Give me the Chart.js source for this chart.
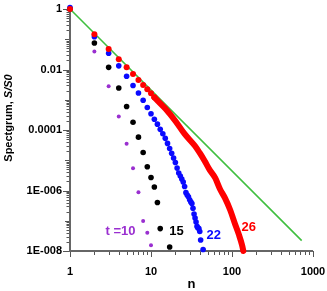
<!DOCTYPE html>
<html>
<head>
<meta charset="utf-8">
<script src="https://cdn.jsdelivr.net/npm/chart.js@4/dist/chart.umd.min.js"></script>
<style>
    html, body { margin: 0; padding: 0; background: #fff; }
    #wrap { width: 327px; height: 291px; }
</style>
</head>
<body>
<div id="wrap"><canvas id="chart"></canvas></div>
<script>
// t = 10
const purpleN = [1, 2, 3, 4, 5, 6, 7, 8, 9, 10];
const purpleS = [1, 0.039, 2.8e-3, 2.8e-4, 3.5e-5, 5.4e-6, 8.7e-7, 9.8e-8, 4.0e-8, 1.55e-8];

// t = 15
const blackN = [1, 2, 3, 4, 5, 6, 7, 8, 9, 10, 11, 12, 13, 17];
const blackS = [1, 0.075, 0.0118, 2.45e-3, 6.0e-4, 1.8e-4, 5.8e-5, 1.8e-5, 6.1e-6, 2.7e-6, 1.3e-6, 4.0e-7, 5.5e-8, 1.35e-8];

// t = 22
const blueN = [1, 2, 3, 4, 5, 6, 7, 8, 9, 10, 11, 12, 13, 14, 15, 16, 17, 18, 19, 20, 21, 22,
    23, 24, 25, 26, 27, 28, 29, 30, 31, 32, 33, 34, 35, 36, 37, 38, 39, 40, 41, 44];
const blueS = [1.12, 0.121, 0.0344, 0.0132, 5.96e-3, 2.96e-3, 1.67e-3, 9.6e-4, 5.55e-4, 3.46e-4,
    2.26e-4, 1.56e-4, 1.05e-4, 7.55e-5, 5.3e-5, 3.6e-5, 2.44e-5, 1.7e-5, 1.19e-5, 8.4e-6, 5.5e-6, 3.8e-6,
    3.0e-6, 2.4e-6, 1.9e-6, 1.35e-6, 8.5e-7, 7.1e-7, 6.2e-7, 4.9e-7, 4.2e-7, 3.7e-7, 2.6e-7, 1.66e-7,
    1.23e-7, 9.1e-8, 6.5e-8, 5.8e-8, 5.5e-8, 4.4e-8, 2.3e-8, 1.12e-8];

// t = 26: separate dots at small n, dense band after that
const redN = [1, 2, 3, 4, 5, 6, 7, 8, 9, 10, 11];
const redS = [1, 0.146, 0.0476, 0.0217, 0.0118, 7.1e-3, 4.5e-3, 3.08e-3, 2.21e-3, 1.63e-3, 1.2e-3];
const redBandN = [11, 15, 20, 26, 35, 40, 46, 53, 62, 71, 82, 95, 109, 122, 133, 138];
const redBandS = [1.2e-3, 5.1e-4, 1.99e-4, 7.4e-5, 2.96e-5, 1.74e-5, 9.4e-6, 4.8e-6, 2.6e-6, 1.12e-6,
    5.6e-7, 2.26e-7, 7.8e-8, 3.4e-8, 1.58e-8, 1.0e-8];

// reference power law
const lineN = [1, 725];
const lineS = [1, 2.2e-8];

const xTickValues = [1, 10, 100, 1000];
const xTickLabels = ['1', '10', '100', '1000'];
const yTickValues = [1, 1e-2, 1e-4, 1e-6, 1e-8];
const yTickLabels = ['1', '0.01', '0.0001', '1E-006', '1E-008'];

const curveLabels = ['t =10', '15', '22', '26'];
const curveLabelN = [4.2, 20.6, 59.4, 161];
const curveLabelS = [4.4e-8, 4.3e-8, 3.2e-8, 6.0e-8];

const PURPLE = '#9a2fd0';
const BLACK = '#000000';
const BLUE = '#0a0aff';
const RED = '#ff0000';
const GREEN = '#3fbf3f';
const FONT = "'Liberation Sans', Arial, sans-serif";

function toPoints(ns, ss) {
    return ns.map((n, i) => ({ x: n, y: ss[i] }));
}

function decadeTicks(fromExp, toExp) {
    const minor = [];
    const decades = [];
    for (let k = fromExp; k <= toExp; k++) {
        decades.push(Math.pow(10, k));
        if (k === toExp) break;
        for (let m = 2; m <= 9; m++) minor.push(m * Math.pow(10, k));
    }
    return { minor, decades };
}

const axesPlugin = {
    id: 'axesPlugin',
    beforeDatasetsDraw(chart) {
        const { ctx, chartArea } = chart;
        const xs = chart.scales.x;
        const ys = chart.scales.y;
        ctx.save();

        ctx.strokeStyle = '#555';
        ctx.lineWidth = 1;
        const yt = decadeTicks(-8, 0);
        ctx.beginPath();
        for (const v of yt.minor) {
            const y = Math.round(ys.getPixelForValue(v)) + 0.5;
            ctx.moveTo(chartArea.left - 3.5, y);
            ctx.lineTo(chartArea.left, y);
        }
        for (const v of yt.decades) {
            const y = Math.round(ys.getPixelForValue(v)) + 0.5;
            const len = yTickValues.includes(v) ? 7 : 5;
            ctx.moveTo(chartArea.left - len, y);
            ctx.lineTo(chartArea.left, y);
        }
        const xt = decadeTicks(0, 3);
        for (const v of xt.minor) {
            const x = Math.round(xs.getPixelForValue(v)) + 0.5;
            ctx.moveTo(x, chartArea.bottom);
            ctx.lineTo(x, chartArea.bottom + 4);
        }
        for (const v of xt.decades) {
            const x = Math.round(xs.getPixelForValue(v)) + 0.5;
            ctx.moveTo(x, chartArea.bottom);
            ctx.lineTo(x, chartArea.bottom + 6);
        }
        ctx.stroke();

        ctx.strokeStyle = '#666';
        ctx.lineWidth = 2;
        ctx.beginPath();
        ctx.moveTo(chartArea.left, chartArea.top);
        ctx.lineTo(chartArea.left, chartArea.bottom);
        ctx.lineTo(chartArea.right, chartArea.bottom);
        ctx.stroke();
        ctx.restore();
    },
    afterDatasetsDraw(chart) {
        const { ctx } = chart;
        const xs = chart.scales.x;
        const ys = chart.scales.y;
        const colors = [PURPLE, BLACK, BLUE, RED];
        ctx.save();
        ctx.font = `bold 13px ${FONT}`;
        ctx.textAlign = 'center';
        ctx.textBaseline = 'middle';
        curveLabels.forEach((text, i) => {
            ctx.fillStyle = colors[i];
            ctx.fillText(text, xs.getPixelForValue(curveLabelN[i]), ys.getPixelForValue(curveLabelS[i]));
        });

        // y axis title with italic S/S0
        const cy = (chart.chartArea.top + chart.chartArea.bottom) / 2 - 12;
        ctx.translate(9, cy);
        ctx.rotate(-Math.PI / 2);
        ctx.fillStyle = '#000';
        const part1 = 'Spectgrum, ';
        const part2 = 'S/S0';
        ctx.font = `bold 11px ${FONT}`;
        const w1 = ctx.measureText(part1).width;
        ctx.font = `italic bold 11px ${FONT}`;
        const w2 = ctx.measureText(part2).width;
        ctx.textAlign = 'left';
        ctx.font = `bold 11px ${FONT}`;
        ctx.fillText(part1, -(w1 + w2) / 2, 0);
        ctx.font = `italic bold 11px ${FONT}`;
        ctx.fillText(part2, -(w1 + w2) / 2 + w1, 0);
        ctx.restore();
    }
};

function dots(data, color, radius, order) {
    return {
        data,
        showLine: false,
        pointRadius: radius,
        pointBackgroundColor: color,
        pointBorderWidth: 0,
        clip: false,
        order
    };
}

new Chart(document.getElementById('chart'), {
    type: 'scatter',
    data: {
        datasets: [
            dots(toPoints(redN, redS), RED, 3, 1),
            {
                data: toPoints(redBandN, redBandS),
                showLine: true,
                borderColor: RED,
                borderWidth: 6,
                borderCapStyle: 'round',
                cubicInterpolationMode: 'monotone',
                pointRadius: 0,
                clip: false,
                order: 2
            },
            dots(toPoints(blueN, blueS), BLUE, 2.8, 3),
            dots(toPoints(blackN, blackS), BLACK, 2.8, 4),
            dots(toPoints(purpleN, purpleS), PURPLE, 2, 5),
            {
                data: toPoints(lineN, lineS),
                showLine: true,
                borderColor: GREEN,
                borderWidth: 1.6,
                pointRadius: 0,
                clip: false,
                order: 6
            }
        ]
    },
    options: {
        responsive: true,
        maintainAspectRatio: false,
        animation: false,
        layout: {
            padding: { top: 9, right: 14, left: 0, bottom: 0 }
        },
        plugins: {
            legend: { display: false },
            tooltip: { enabled: false }
        },
        scales: {
            x: {
                type: 'logarithmic',
                min: 1,
                max: 1000,
                afterBuildTicks: (scale) => {
                    scale.ticks = xTickValues.map((value) => ({ value }));
                },
                afterFit: (scale) => {
                    scale.height = 40;
                },
                // tick marks are drawn by the plugin, tickLength only offsets the labels
                grid: { display: false, drawTicks: true, tickLength: 14 },
                border: { display: false },
                ticks: {
                    autoSkip: false,
                    maxRotation: 0,
                    padding: 0,
                    color: '#000',
                    font: { family: FONT, weight: 'bold', size: 11 },
                    callback: (value, index) => xTickLabels[index]
                },
                title: {
                    display: true,
                    text: 'n',
                    color: '#000',
                    font: { family: FONT, weight: 'bold', size: 13, lineHeight: 1 },
                    padding: { top: 0, bottom: 0 }
                }
            },
            y: {
                type: 'logarithmic',
                min: 1e-8,
                max: 1,
                afterBuildTicks: (scale) => {
                    scale.ticks = yTickValues.map((value) => ({ value }));
                },
                afterFit: (scale) => {
                    scale.width = 70;
                },
                grid: { display: false, drawTicks: true, tickLength: 8 },
                border: { display: false },
                ticks: {
                    autoSkip: false,
                    padding: 0,
                    color: '#000',
                    font: { family: FONT, weight: 'bold', size: 11 },
                    callback: (value, index) => yTickLabels[index]
                }
            }
        }
    },
    plugins: [axesPlugin]
});
</script>
</body>
</html>
